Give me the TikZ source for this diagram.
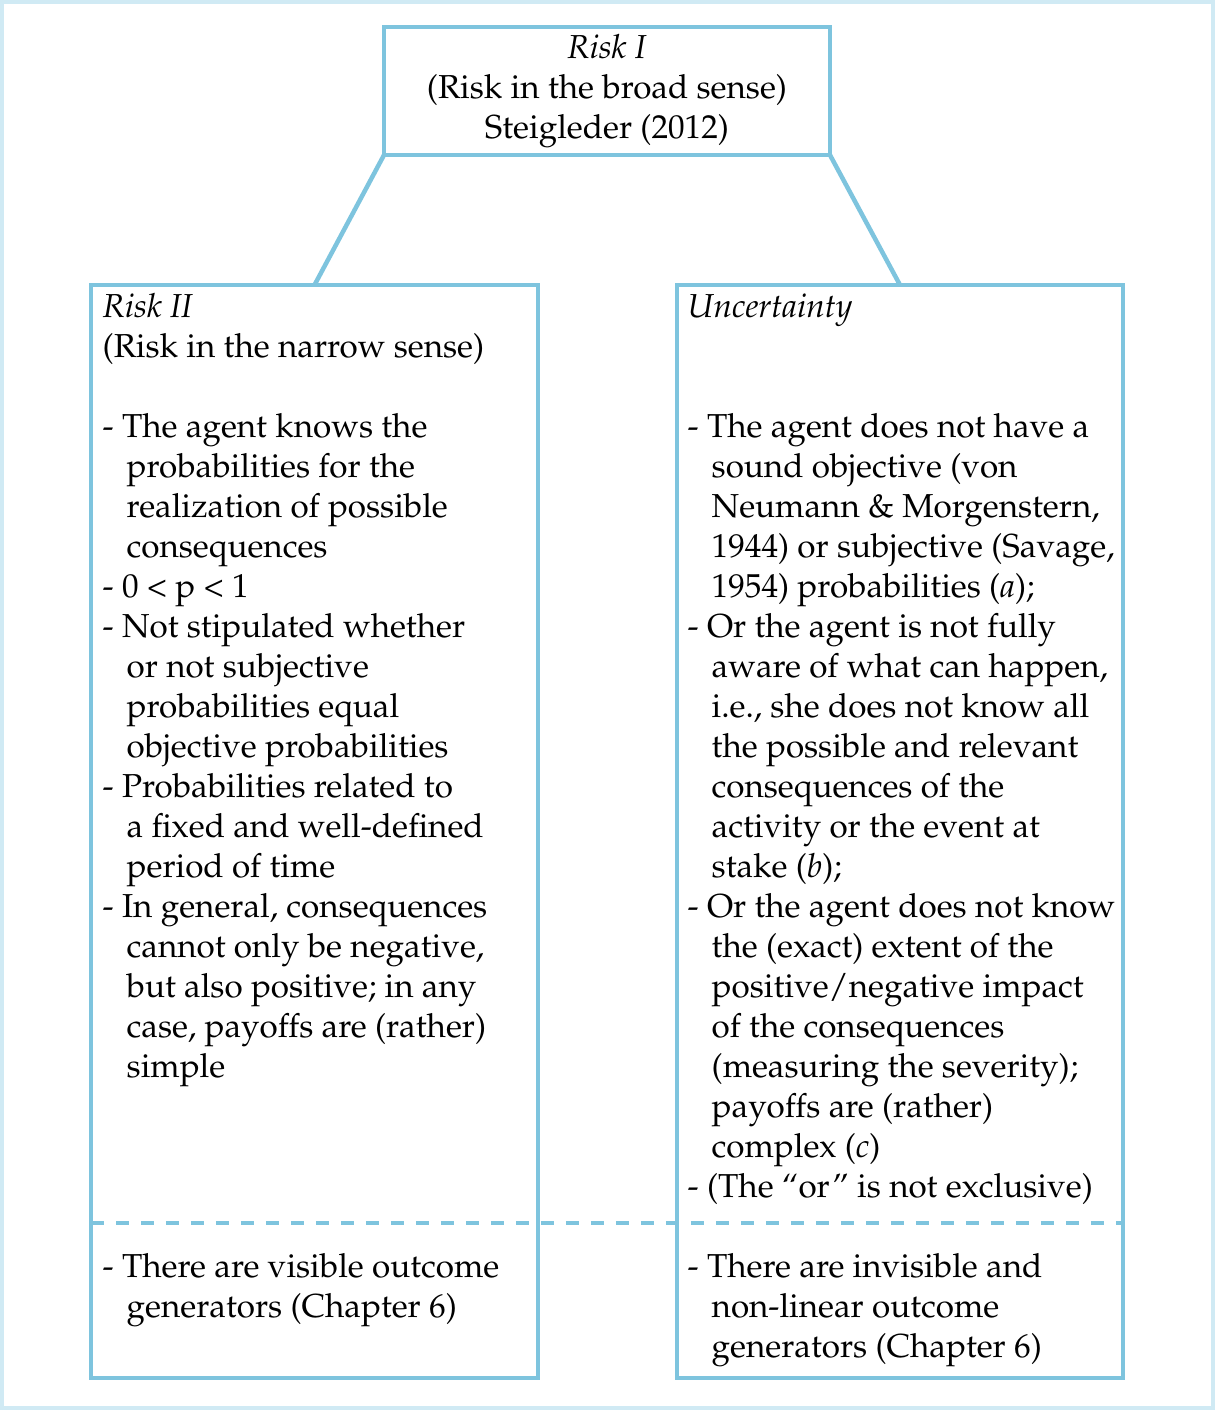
\documentclass[tikz,border=0pt]{standalone}
\usepackage[T1]{fontenc}
\usepackage{mathpazo}

\definecolor{boxblue}{RGB}{126,196,222}
\definecolor{frameblue}{RGB}{208,234,244}
\newcommand{\gap}{\hspace*{0.24cm}}

\begin{document}
\begin{tikzpicture}[
        box/.style={draw=boxblue, line width=0.045cm, inner sep=0pt, outer sep=0pt},
        boxtext/.style={font=\fontsize{9.45}{11.38}\selectfont, align=left, inner sep=0pt, anchor=north west},
        link/.style={draw=boxblue, line width=0.045cm},
        divider/.style={draw=boxblue, line width=0.045cm, dash pattern=on 0.13cm off 0.12cm}
    ]

        % Frame
        \useasboundingbox (00.00,00.00) rectangle (12.15,-14.10);
        \draw[frameblue, line width=0.04cm] (00.02,-00.02) rectangle (12.13,-14.08);

        % Risk I
        \node[box, minimum width=4.46cm, minimum height=1.28cm, align=center,
              font=\fontsize{9.45}{11.38}\selectfont] (riskI) at (06.07,-00.91)
              {\textit{Risk I}\\(Risk in the broad sense)\\Steigleder (2012)};

        % Risk II
        \node[box, minimum width=4.47cm, minimum height=10.93cm, anchor=north west] (riskII) at (00.91,-02.85) {};

        % Uncertainty
        \node[box, minimum width=4.46cm, minimum height=10.93cm, anchor=north west] (uncert) at (06.77,-02.85) {};

        % Risk I -- Risk II, Risk I -- Uncertainty
        \draw[link] (riskI.south west) -- (riskII.north);
        \draw[link] (riskI.south east) -- (uncert.north);

        % Split line
        \coordinate (split) at (00.00,-12.23);
        \draw[divider] (riskII.west |- split) -- (uncert.east |- split);

        % Risk II text
        \node[boxtext] (riskIIbody) at (01.02,-02.93) {\textit{Risk II}\\
            (Risk in the narrow sense)\\[11.38pt]
            - The agent knows the\\
            \gap probabilities for the\\
            \gap realization of possible\\
            \gap consequences\\
            - 0 \textless{} p \textless{} 1\\
            - Not stipulated whether\\
            \gap or not subjective\\
            \gap probabilities equal\\
            \gap objective probabilities\\
            - Probabilities related to\\
            \gap a fixed and well-defined\\
            \gap period of time\\
            - In general, consequences\\
            \gap cannot only be negative,\\
            \gap but also positive; in any\\
            \gap case, payoffs are (rather)\\
            \gap simple};
        \node[boxtext] (riskIIfoot) at (01.02,-12.53) {- There are visible outcome\\
            \gap generators (Chapter 6)};

        % Uncertainty text
        \node[boxtext] (uncertbody) at (06.87,-02.93) {\textit{Uncertainty}\\[22.76pt]
            - The agent does not have a\\
            \gap sound objective (von\\
            \gap Neumann \& Morgenstern,\\
            \gap 1944) or subjective (Savage,\\
            \gap 1954) probabilities (\textit{a});\\
            - Or the agent is not fully\\
            \gap aware of what can happen,\\
            \gap i.e., she does not know all\\
            \gap the possible and relevant\\
            \gap consequences of the\\
            \gap activity or the event at\\
            \gap stake (\textit{b});\\
            - Or the agent does not know\\
            \gap the (exact) extent of the\\
            \gap positive/negative impact\\
            \gap of the consequences\\
            \gap (measuring the severity);\\
            \gap payoffs are (rather)\\
            \gap complex (\textit{c})\\
            - (The ``or'' is not exclusive)};
        \node[boxtext] (uncertfoot) at (06.87,-12.53) {- There are invisible and\\
            \gap non-linear outcome\\
            \gap generators (Chapter 6)};

    \end{tikzpicture}
\end{document}
